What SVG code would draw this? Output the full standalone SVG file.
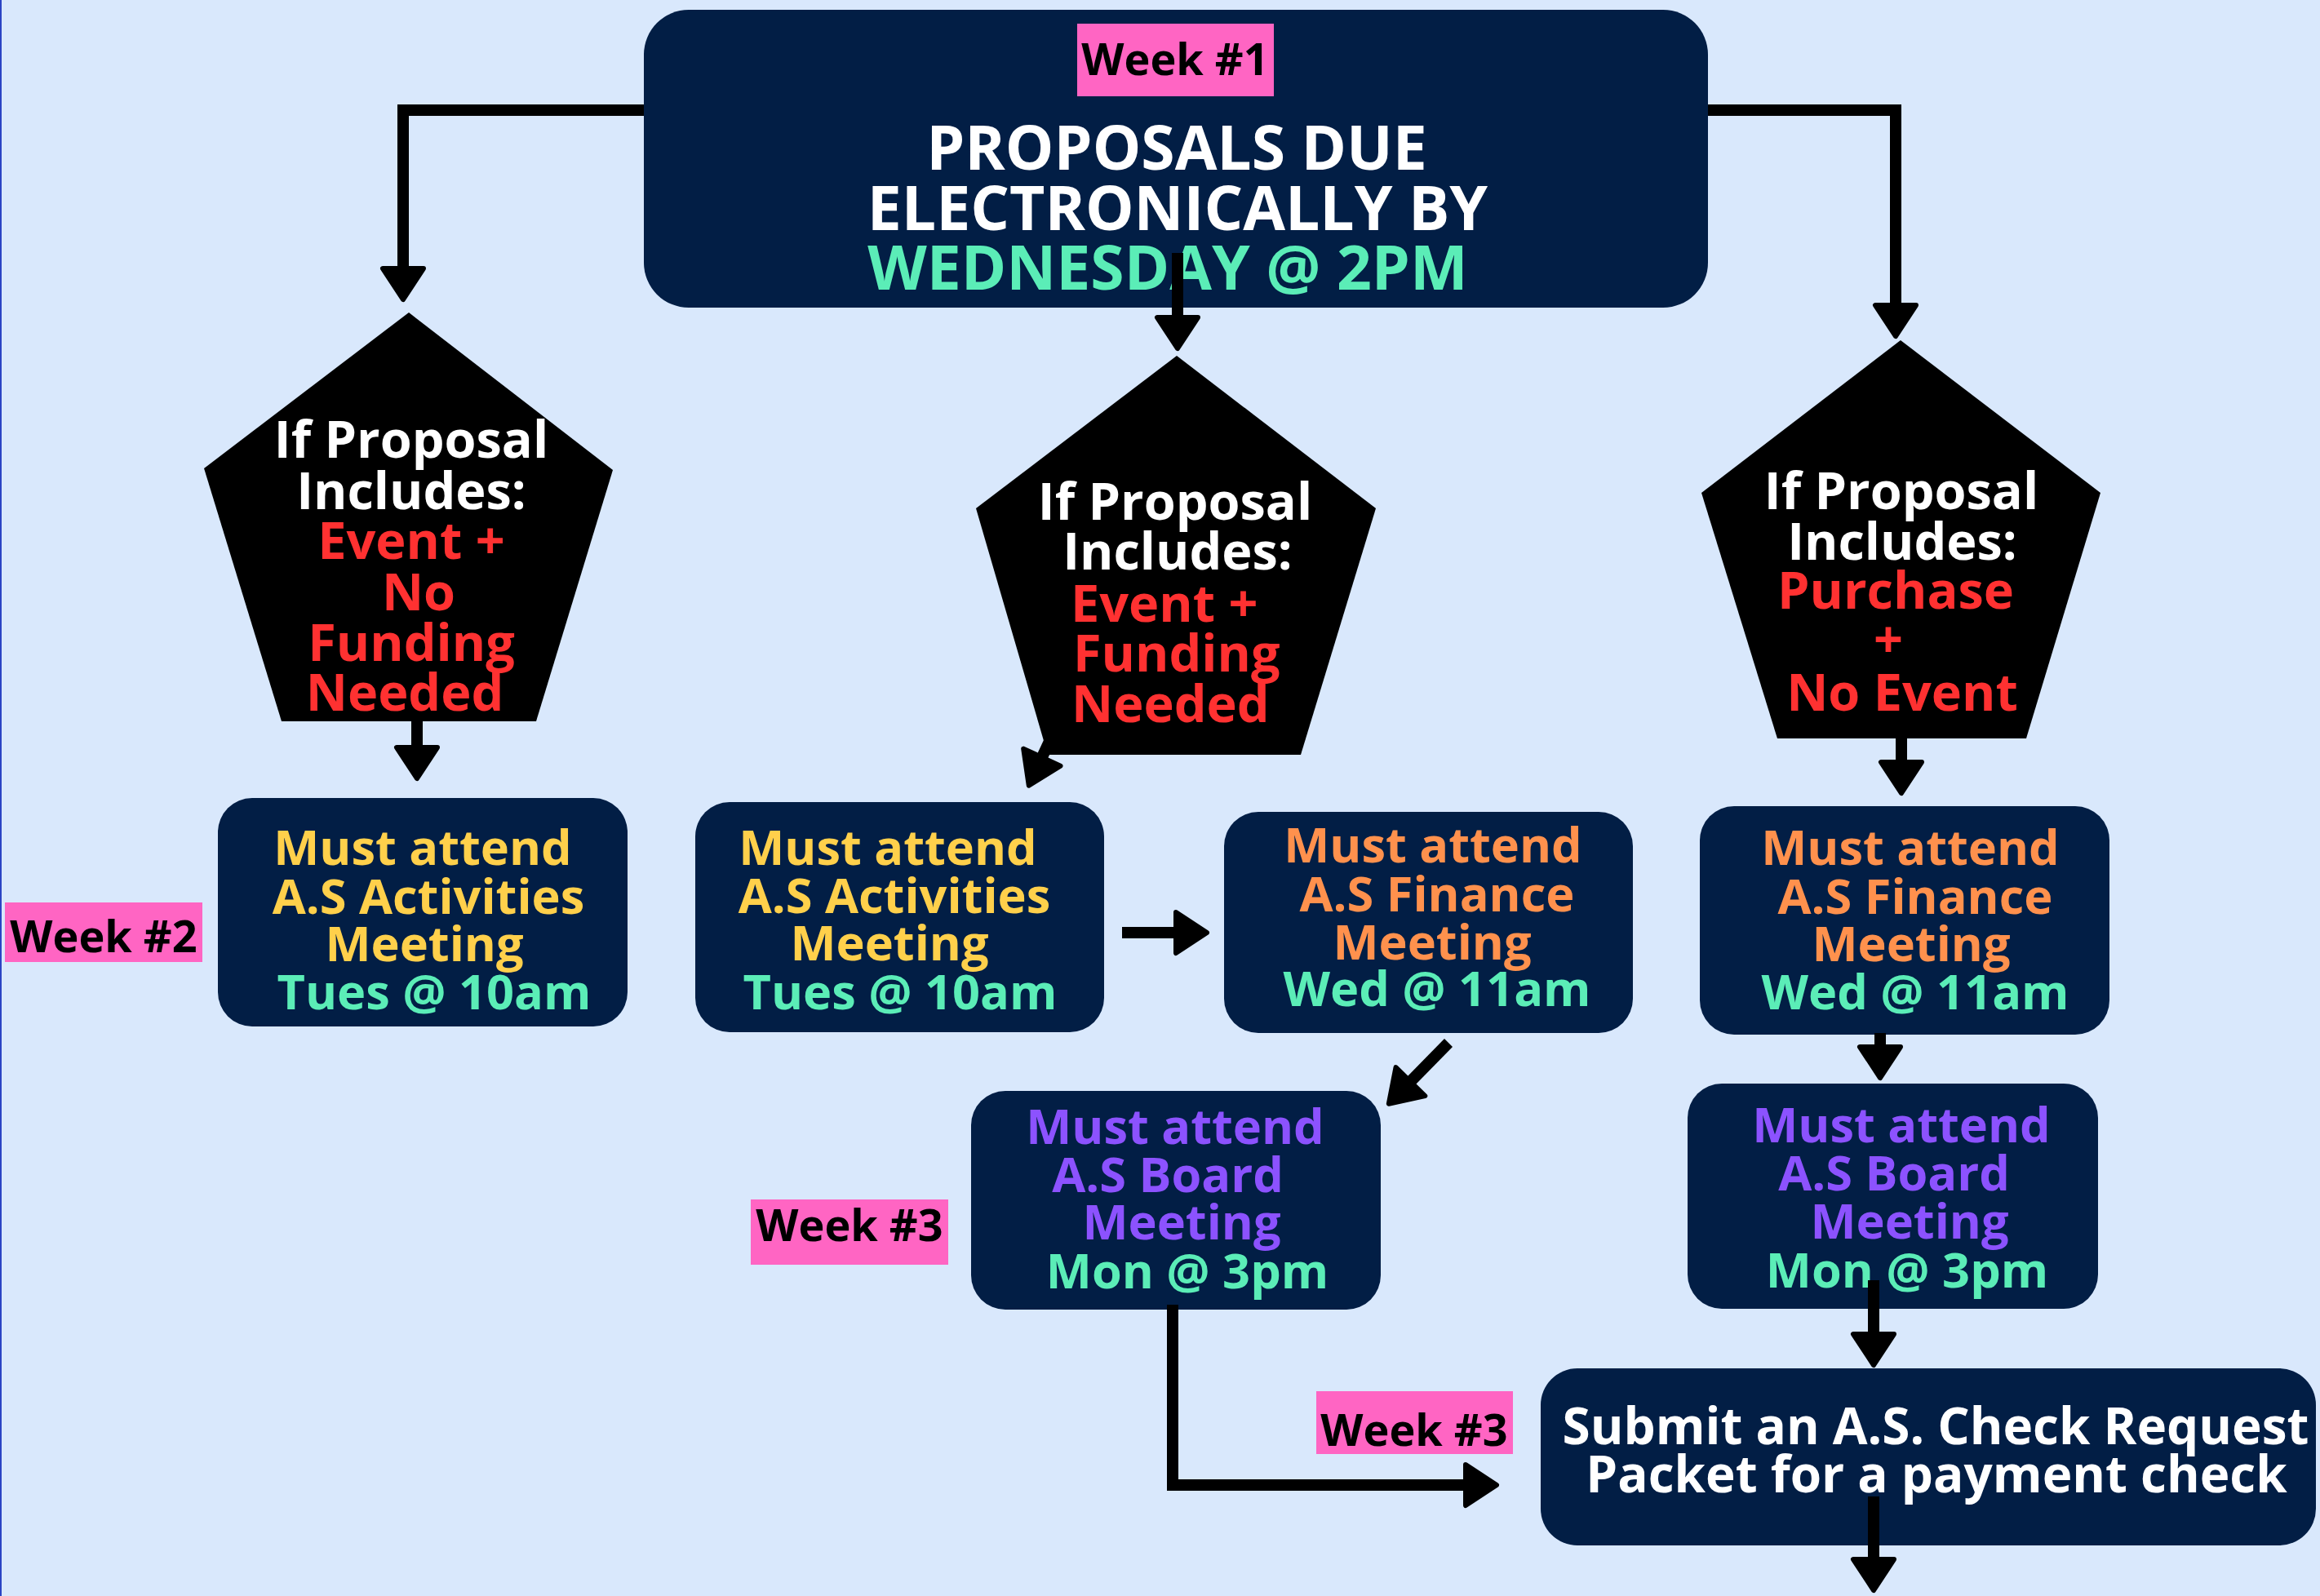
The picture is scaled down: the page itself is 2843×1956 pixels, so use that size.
<svg xmlns="http://www.w3.org/2000/svg" width="2843" height="1956" viewBox="0 0 2843 1956">
<defs>
<style>
text{font-family:"Open Sans","Liberation Sans",sans-serif;font-weight:700;}
.box{fill:#021E45;}
.pent{fill:#000;}
.pink{fill:#FF65C3;}
.wk{font-size:54px;fill:#000;text-anchor:middle;}
.main{font-size:75px;text-anchor:middle;}
.pt{font-size:63px;text-anchor:middle;}
.bt{font-size:59.5px;text-anchor:middle;}
.st{font-size:62px;text-anchor:middle;fill:#fff;}
.w{fill:#fff;}
.r{fill:#FF3131;}
.y{fill:#FFD04B;}
.o{fill:#FF914D;}
.p{fill:#8C52FF;}
.g{fill:#5BEDB7;}
.conn{fill:none;stroke:#000;stroke-width:14;stroke-linecap:butt;stroke-linejoin:miter;marker-end:url(#ah);}
</style>
<marker id="ah" markerUnits="userSpaceOnUse" viewBox="-6 -32 50 64" refX="0" refY="0" markerWidth="50" markerHeight="64" orient="auto" overflow="visible">
<path d="M-2,-25 L36,0 L-2,25 Z" fill="#000" stroke="#000" stroke-width="6" stroke-linejoin="round"/>
</marker>
</defs>
<rect x="0" y="0" width="2843" height="1956" fill="#D9E8FC"/>
<rect x="0" y="0" width="2" height="1956" fill="#2B44C4"/>

<g id="node-main">
<rect class="box" x="789" y="12" width="1304" height="365" rx="55"/>
<rect class="pink" x="1320" y="29" width="241" height="89"/>
<text class="wk" x="1440" y="92">Week #1</text>
<text class="main w" x="1442" y="208">PROPOSALS DUE</text>
<text class="main w" x="1443" y="282">ELECTRONICALLY BY</text>
<text class="main g" x="1431" y="355">WEDNESDAY @ 2PM</text>
</g>

<g id="node-pent-left">
<polygon class="pent" points="501,383 250,574 345,884 657,884 751,576"/>
<text class="pt w" x="504" y="561">If Proposal</text>
<text class="pt w" x="504" y="624">Includes:</text>
<text class="pt r" x="504" y="685">Event +</text>
<text class="pt r" x="513" y="748">No</text>
<text class="pt r" x="504" y="810">Funding</text>
<text class="pt r" x="496" y="871">Needed</text>
</g>

<g id="node-pent-mid">
<polygon class="pent" points="1442,436 1196,623 1284,925 1594,925 1686,623"/>
<text class="pt w" x="1440" y="637">If Proposal</text>
<text class="pt w" x="1443" y="698">Includes:</text>
<text class="pt r" x="1312" y="762" style="text-anchor:start">Event +</text>
<text class="pt r" x="1315" y="823" style="text-anchor:start">Funding</text>
<text class="pt r" x="1313" y="885" style="text-anchor:start">Needed</text>
</g>

<g id="node-pent-right">
<polygon class="pent" points="2329,417 2085,604 2178,905 2483,905 2574,604"/>
<text class="pt w" x="2330" y="624">If Proposal</text>
<text class="pt w" x="2331" y="686">Includes:</text>
<text class="pt r" x="2323" y="746">Purchase</text>
<text class="pt r" x="2314" y="806">+</text>
<text class="pt r" x="2331" y="871">No Event</text>
</g>

<g id="label-week2">
<rect class="pink" x="6" y="1106" width="242" height="73"/>
<text class="wk" x="127" y="1167">Week #2</text>
</g>

<g id="node-act-left">
<rect class="box" x="267" y="978" width="502" height="280" rx="42"/>
<text class="bt y" x="518" y="1060">Must attend</text>
<text class="bt y" x="525" y="1120">A.S Activities</text>
<text class="bt y" x="520" y="1178">Meeting</text>
<text class="bt g" x="532" y="1237">Tues @ 10am</text>
</g>

<g id="node-act-mid">
<rect class="box" x="852" y="983" width="501" height="282" rx="42"/>
<text class="bt y" x="1088" y="1060">Must attend</text>
<text class="bt y" x="1096" y="1119">A.S Activities</text>
<text class="bt y" x="1090" y="1177">Meeting</text>
<text class="bt g" x="1103" y="1237">Tues @ 10am</text>
</g>

<g id="node-fin-mid">
<rect class="box" x="1500" y="995" width="501" height="271" rx="42"/>
<text class="bt o" x="1756" y="1057">Must attend</text>
<text class="bt o" x="1761" y="1117">A.S Finance</text>
<text class="bt o" x="1755" y="1176">Meeting</text>
<text class="bt g" x="1761" y="1233">Wed @ 11am</text>
</g>

<g id="node-fin-right">
<rect class="box" x="2083" y="988" width="502" height="280" rx="42"/>
<text class="bt o" x="2341" y="1060">Must attend</text>
<text class="bt o" x="2347" y="1120">A.S Finance</text>
<text class="bt o" x="2342" y="1178">Meeting</text>
<text class="bt g" x="2347" y="1237">Wed @ 11am</text>
</g>

<g id="label-week3-left">
<rect class="pink" x="920" y="1470" width="242" height="80"/>
<text class="wk" x="1041" y="1521">Week #3</text>
</g>

<g id="node-board-mid">
<rect class="box" x="1190" y="1337" width="502" height="268" rx="42"/>
<text class="bt p" x="1440" y="1402">Must attend</text>
<text class="bt p" x="1431" y="1461">A.S Board</text>
<text class="bt p" x="1448" y="1519">Meeting</text>
<text class="bt g" x="1455" y="1579">Mon @ 3pm</text>
</g>

<g id="node-board-right">
<rect class="box" x="2068" y="1328" width="503" height="276" rx="42"/>
<text class="bt p" x="2330" y="1400">Must attend</text>
<text class="bt p" x="2321" y="1459">A.S Board</text>
<text class="bt p" x="2340" y="1518">Meeting</text>
<text class="bt g" x="2337" y="1578">Mon @ 3pm</text>
</g>

<g id="label-week3-right">
<rect class="pink" x="1613" y="1705" width="241" height="77"/>
<text class="wk" x="1733" y="1772">Week #3</text>
</g>

<g id="node-submit">
<rect class="box" x="1888" y="1677" width="950" height="217" rx="45"/>
<text class="st" x="2372" y="1770">Submit an A.S. Check Request</text>
<text class="st" x="2373" y="1829">Packet for a payment check</text>
</g>

<g id="connectors">
<path class="conn" d="M789,135 H494 V331"/>
<path class="conn" d="M2093,135 H2323 V376"/>
<path class="conn" d="M1443,310 V391"/>
<path class="conn" d="M511,884 V918"/>
<path class="conn" d="M1290,900 L1276,930"/>
<path class="conn" d="M2330,905 V936"/>
<path class="conn" d="M1375,1143 H1443"/>
<path class="conn" d="M1775,1278 L1727,1327"/>
<path class="conn" d="M2304,1266 V1285"/>
<path class="conn" d="M2296,1569 V1637"/>
<path class="conn" d="M2296,1834 V1913"/>
<path class="conn" d="M1437,1599 V1820 H1798"/>
</g>
</svg>
